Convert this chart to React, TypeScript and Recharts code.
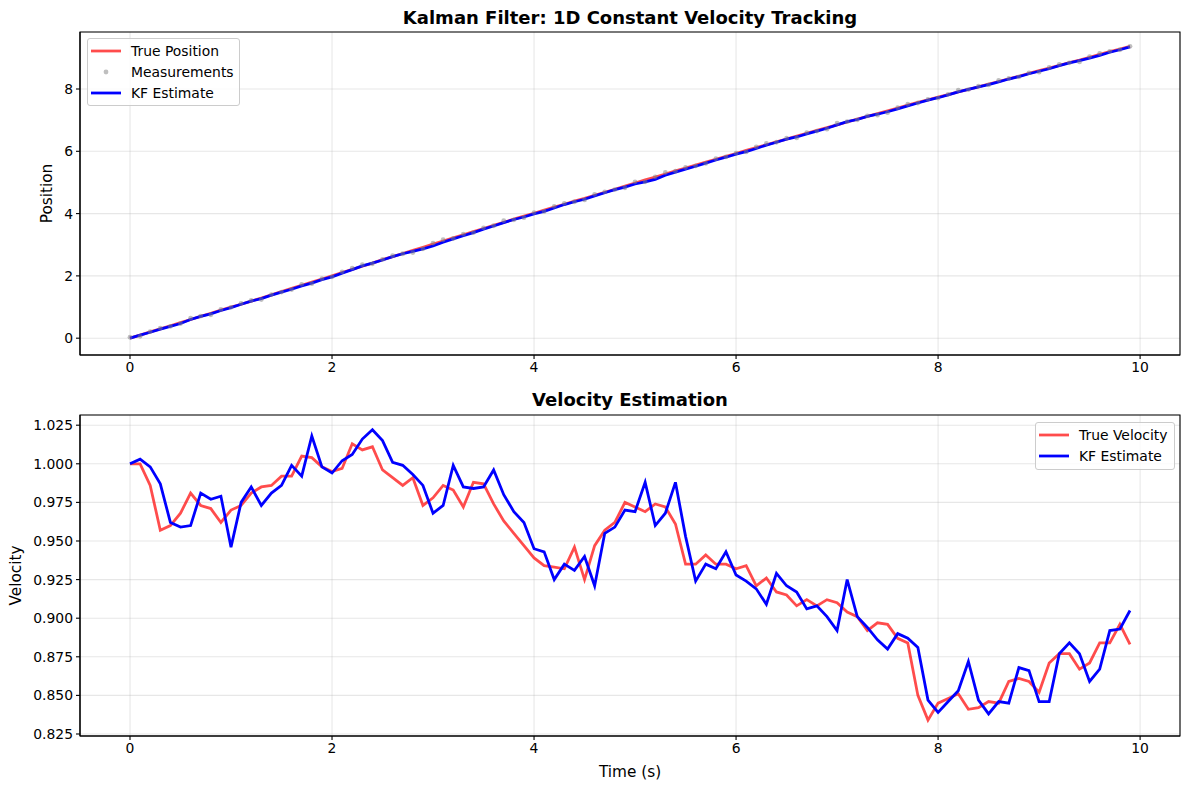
import React from 'react'
import {
  ComposedChart,
  LineChart,
  Line,
  Scatter,
  XAxis,
  YAxis,
  CartesianGrid,
  ReferenceArea,
  Legend,
} from 'recharts'

// sample times, 0.1 s steps
const TIME = [
  0, 0.1, 0.2, 0.3, 0.4, 0.5, 0.6, 0.7, 0.8, 0.9,
  1, 1.1, 1.2, 1.3, 1.4, 1.5, 1.6, 1.7, 1.8, 1.9,
  2, 2.1, 2.2, 2.3, 2.4, 2.5, 2.6, 2.7, 2.8, 2.9,
  3, 3.1, 3.2, 3.3, 3.4, 3.5, 3.6, 3.7, 3.8, 3.9,
  4, 4.1, 4.2, 4.3, 4.4, 4.5, 4.6, 4.7, 4.8, 4.9,
  5, 5.1, 5.2, 5.3, 5.4, 5.5, 5.6, 5.7, 5.8, 5.9,
  6, 6.1, 6.2, 6.3, 6.4, 6.5, 6.6, 6.7, 6.8, 6.9,
  7, 7.1, 7.2, 7.3, 7.4, 7.5, 7.6, 7.7, 7.8, 7.9,
  8, 8.1, 8.2, 8.3, 8.4, 8.5, 8.6, 8.7, 8.8, 8.9,
  9, 9.1, 9.2, 9.3, 9.4, 9.5, 9.6, 9.7, 9.8, 9.9,
]

const TRUE_POSITION = [
  0.0, 0.1, 0.2, 0.3, 0.4, 0.5, 0.6, 0.7, 0.8, 0.9,
  1.0, 1.09, 1.19, 1.29, 1.39, 1.5, 1.6, 1.7, 1.8, 1.9,
  2.0, 2.11, 2.21, 2.31, 2.41, 2.52, 2.62, 2.72, 2.82, 2.92,
  3.02, 3.12, 3.22, 3.32, 3.42, 3.52, 3.62, 3.72, 3.82, 3.92,
  4.01, 4.11, 4.21, 4.3, 4.4, 4.49, 4.59, 4.68, 4.78, 4.88,
  4.98, 5.08, 5.17, 5.27, 5.37, 5.46, 5.56, 5.65, 5.74, 5.84,
  5.93, 6.03, 6.12, 6.21, 6.3, 6.39, 6.49, 6.58, 6.67, 6.76,
  6.85, 6.94, 7.03, 7.12, 7.21, 7.3, 7.39, 7.48, 7.57, 7.65,
  7.74, 7.82, 7.91, 7.99, 8.07, 8.16, 8.24, 8.33, 8.41, 8.5,
  8.59, 8.67, 8.76, 8.85, 8.93, 9.02, 9.11, 9.2, 9.28, 9.37,
]

const MEASUREMENTS = [
  0.03, 0.06, 0.21, 0.32, 0.38, 0.47, 0.64, 0.71, 0.75, 0.92,
  0.99, 1.12, 1.21, 1.24, 1.4, 1.48, 1.56, 1.73, 1.75, 1.91,
  1.97, 2.13, 2.25, 2.36, 2.39, 2.53, 2.65, 2.71, 2.75, 2.87,
  3.05, 3.16, 3.2, 3.34, 3.39, 3.54, 3.61, 3.77, 3.8, 3.87,
  4.03, 4.07, 4.23, 4.33, 4.38, 4.44, 4.62, 4.7, 4.77, 4.83,
  5.02, 5.02, 5.18, 5.32, 5.36, 5.48, 5.53, 5.61, 5.76, 5.82,
  5.94, 5.98, 6.14, 6.25, 6.29, 6.42, 6.43, 6.6, 6.65, 6.71,
  6.9, 6.95, 7.01, 7.14, 7.16, 7.24, 7.4, 7.51, 7.55, 7.67,
  7.71, 7.83, 7.96, 7.98, 8.09, 8.13, 8.28, 8.34, 8.39, 8.52,
  8.54, 8.69, 8.79, 8.84, 8.87, 9.04, 9.14, 9.21, 9.26, 9.37,
]

const KF_POSITION = [
  0.0, 0.1, 0.19, 0.29, 0.38, 0.47, 0.6, 0.7, 0.78, 0.89,
  0.98, 1.09, 1.19, 1.27, 1.38, 1.48, 1.57, 1.68, 1.77, 1.88,
  1.97, 2.09, 2.2, 2.32, 2.41, 2.51, 2.62, 2.71, 2.79, 2.87,
  2.96, 3.08, 3.19, 3.29, 3.39, 3.5, 3.6, 3.71, 3.81, 3.89,
  3.99, 4.07, 4.18, 4.29, 4.38, 4.46, 4.57, 4.67, 4.77, 4.85,
  4.95, 5.02, 5.1, 5.23, 5.33, 5.43, 5.52, 5.62, 5.72, 5.81,
  5.91, 5.99, 6.09, 6.2, 6.29, 6.39, 6.46, 6.56, 6.65, 6.74,
  6.85, 6.95, 7.02, 7.12, 7.19, 7.27, 7.36, 7.46, 7.55, 7.64,
  7.72, 7.81, 7.91, 7.99, 8.07, 8.14, 8.23, 8.32, 8.4, 8.49,
  8.57, 8.65, 8.75, 8.84, 8.91, 8.99, 9.08, 9.18, 9.26, 9.35,
]

const TRUE_VELOCITY = [
  1.0, 1.0, 0.986, 0.957, 0.96, 0.968, 0.981, 0.973, 0.971, 0.962,
  0.97, 0.973, 0.981, 0.985, 0.986, 0.992, 0.992, 1.005, 1.004, 0.998,
  0.995, 0.997, 1.013, 1.009, 1.011, 0.996, 0.991, 0.986, 0.991, 0.973,
  0.978, 0.986, 0.983, 0.972, 0.988, 0.987, 0.974, 0.963, 0.955, 0.947,
  0.939, 0.934, 0.933, 0.932, 0.946, 0.925, 0.947, 0.957, 0.962, 0.975,
  0.972, 0.969, 0.974, 0.972, 0.961, 0.935, 0.935, 0.941, 0.935, 0.935,
  0.932, 0.934, 0.921, 0.926, 0.917, 0.915, 0.908, 0.912, 0.908, 0.912,
  0.91, 0.904, 0.901, 0.892, 0.897, 0.896, 0.887, 0.884, 0.85, 0.834,
  0.845, 0.848, 0.851, 0.841, 0.842, 0.846, 0.845, 0.859, 0.861, 0.859,
  0.852, 0.871, 0.877, 0.877, 0.867, 0.871, 0.884, 0.884, 0.896, 0.883,
]

const KF_VELOCITY = [
  1.0, 1.003, 0.998, 0.987, 0.962, 0.959, 0.96, 0.981, 0.977, 0.979,
  0.946, 0.975, 0.985, 0.973, 0.981, 0.986, 0.999, 0.992, 1.018, 0.998,
  0.994, 1.002, 1.006, 1.016, 1.022, 1.015, 1.001, 0.999, 0.993, 0.986,
  0.968, 0.973, 0.999, 0.985, 0.984, 0.985, 0.996, 0.98, 0.969, 0.962,
  0.945, 0.943, 0.925, 0.935, 0.931, 0.94, 0.921, 0.955, 0.959, 0.97,
  0.969, 0.988, 0.96, 0.968, 0.988, 0.953, 0.924, 0.935, 0.932, 0.943,
  0.928, 0.924, 0.919, 0.909, 0.929, 0.921, 0.917, 0.906, 0.908, 0.901,
  0.892, 0.925, 0.901, 0.894, 0.886, 0.88, 0.89, 0.887, 0.881, 0.847,
  0.839, 0.846, 0.853, 0.872, 0.847, 0.838, 0.846, 0.845, 0.868, 0.866,
  0.846, 0.846, 0.877, 0.884, 0.877, 0.859, 0.867, 0.892, 0.893, 0.905,
]

const TIME_TICKS = [0, 2, 4, 6, 8, 10]
const POSITION_TICKS = [0, 2, 4, 6, 8]
const VELOCITY_TICKS = [0.825, 0.85, 0.875, 0.9, 0.925, 0.95, 0.975, 1.0, 1.025]

const positionRows = TIME.map((t, i) => ({
  t,
  truePos: TRUE_POSITION[i],
  meas: MEASUREMENTS[i],
  kfPos: KF_POSITION[i],
}))

const velocityRows = TIME.map((t, i) => ({
  t,
  trueVel: TRUE_VELOCITY[i],
  kfVel: KF_VELOCITY[i],
}))

const FONT = '"DejaVu Sans", sans-serif'
const TIME_DOMAIN: [number, number] = [-0.495, 10.395]
const POS_DOMAIN: [number, number] = [-0.54, 9.83]
const VEL_DOMAIN: [number, number] = [0.8237, 1.0316]
const LW = 2.78
const tickStyle = { fontSize: 13.9, fill: '#000', fontFamily: FONT }

type LegendItem = { label: string; kind: 'line' | 'dot'; color: string; opacity?: number }

function BoxLegend({ items }: { items: LegendItem[] }) {
  return (
    <div
      style={{
        boxSizing: 'border-box',
        border: '1px solid #cccccc',
        borderRadius: 3,
        background: 'rgba(255,255,255,0.8)',
        padding: '2px 6px 2px 3px',
        fontFamily: FONT,
        fontSize: 13.9,
        color: '#000',
      }}
    >
      {items.map((it) => (
        <div key={it.label} style={{ display: 'flex', alignItems: 'center', height: 20.8 }}>
          <svg width={30} height={10} style={{ marginRight: 10, flex: 'none' }}>
            {it.kind === 'line' ? (
              <line x1={0} x2={30} y1={5} y2={5} stroke={it.color} strokeOpacity={it.opacity ?? 1} strokeWidth={LW} />
            ) : (
              <circle cx={15} cy={5} r={2.4} fill={it.color} fillOpacity={it.opacity ?? 1} />
            )}
          </svg>
          <span style={{ whiteSpace: 'nowrap' }}>{it.label}</span>
        </div>
      ))}
    </div>
  )
}

function YTitle(props: any) {
  const { viewBox, value, x } = props
  const cy = viewBox ? viewBox.y + viewBox.height / 2 : 194
  return (
    <text
      x={x}
      y={cy}
      transform={`rotate(-90 ${x} ${cy})`}
      textAnchor="middle"
      dominantBaseline="central"
      fontSize={15.3}
      fontFamily={FONT}
      fill="#000"
    >
      {value}
    </text>
  )
}

function XTitle(props: any) {
  const { viewBox, value, y } = props
  const cx = viewBox ? viewBox.x + viewBox.width / 2 : 630
  return (
    <text x={cx} y={y} textAnchor="middle" dominantBaseline="central" fontSize={15.3} fontFamily={FONT} fill="#000">
      {value}
    </text>
  )
}

const dotShape = (p: any) => <circle cx={p.cx} cy={p.cy} r={2.4} fill="#808080" fillOpacity={0.5} />

const titleStyle: React.CSSProperties = {
  position: 'absolute',
  left: 80,
  width: 1100,
  textAlign: 'center',
  fontFamily: FONT,
  fontWeight: 'bold',
  fontSize: 18,
  lineHeight: '20px',
}

export default function App() {
  return (
    <div style={{ position: 'absolute', left: 0, top: 0, width: 1189, height: 790, background: '#fff' }}>
      <div style={{ ...titleStyle, top: 8 }}>Kalman Filter: 1D Constant Velocity Tracking</div>
      <div style={{ ...titleStyle, top: 390 }}>Velocity Estimation</div>

      <div style={{ position: 'absolute', left: 0, top: 0 }}>
        <ComposedChart width={1189} height={395} data={positionRows} margin={{ top: 32, right: 9, bottom: 10, left: 0 }}>
          <CartesianGrid stroke="#b0b0b0" strokeOpacity={0.3} strokeWidth={1.1} />
          <XAxis
            dataKey="t"
            type="number"
            domain={TIME_DOMAIN}
            ticks={TIME_TICKS}
            interval={0}
            height={30}
            tick={tickStyle}
            tickSize={4}
            tickMargin={3}
            stroke="#000"
            strokeWidth={1.1}
          />
          <YAxis
            type="number"
            domain={POS_DOMAIN}
            ticks={POSITION_TICKS}
            interval={0}
            width={80}
            tick={tickStyle}
            tickSize={4}
            tickMargin={3}
            stroke="#000"
            strokeWidth={1.1}
            label={{ value: 'Position', content: (p: any) => <YTitle {...p} value="Position" x={47} /> }}
          />
          <ReferenceArea
            x1={TIME_DOMAIN[0]}
            x2={TIME_DOMAIN[1]}
            y1={POS_DOMAIN[0]}
            y2={POS_DOMAIN[1]}
            fill="none"
            stroke="#000"
            strokeWidth={1.1}
            ifOverflow="visible"
          />
          <Line dataKey="truePos" type="linear" stroke="red" strokeOpacity={0.7} strokeWidth={LW} dot={false} isAnimationActive={false} />
          <Scatter dataKey="meas" shape={dotShape} isAnimationActive={false} />
          <Line dataKey="kfPos" type="linear" stroke="blue" strokeWidth={LW} dot={false} isAnimationActive={false} />
          <Legend
            layout="vertical"
            align="center"
            verticalAlign="middle"
            wrapperStyle={{ left: 87, top: 38, width: 153 }}
            content={() => (
              <BoxLegend
                items={[
                  { label: 'True Position', kind: 'line', color: 'red', opacity: 0.7 },
                  { label: 'Measurements', kind: 'dot', color: '#808080', opacity: 0.5 },
                  { label: 'KF Estimate', kind: 'line', color: 'blue' },
                ]}
              />
            )}
          />
        </ComposedChart>
      </div>

      <div style={{ position: 'absolute', left: 0, top: 380 }}>
        <LineChart width={1189} height={400} data={velocityRows} margin={{ top: 35, right: 9, bottom: 14, left: 0 }}>
          <CartesianGrid stroke="#b0b0b0" strokeOpacity={0.3} strokeWidth={1.1} />
          <XAxis
            dataKey="t"
            type="number"
            domain={TIME_DOMAIN}
            ticks={TIME_TICKS}
            interval={0}
            height={30}
            tick={tickStyle}
            tickSize={4}
            tickMargin={3}
            stroke="#000"
            strokeWidth={1.1}
            label={{ value: 'Time (s)', content: (p: any) => <XTitle {...p} value="Time (s)" y={392} /> }}
          />
          <YAxis
            type="number"
            domain={VEL_DOMAIN}
            ticks={VELOCITY_TICKS}
            interval={0}
            width={80}
            tick={tickStyle}
            tickSize={4}
            tickMargin={3}
            tickFormatter={(v: number) => v.toFixed(3)}
            stroke="#000"
            strokeWidth={1.1}
            label={{ value: 'Velocity', content: (p: any) => <YTitle {...p} value="Velocity" x={16} /> }}
          />
          <ReferenceArea
            x1={TIME_DOMAIN[0]}
            x2={TIME_DOMAIN[1]}
            y1={VEL_DOMAIN[0]}
            y2={VEL_DOMAIN[1]}
            fill="none"
            stroke="#000"
            strokeWidth={1.1}
            ifOverflow="visible"
          />
          <Line dataKey="trueVel" type="linear" stroke="red" strokeOpacity={0.7} strokeWidth={LW} dot={false} isAnimationActive={false} />
          <Line dataKey="kfVel" type="linear" stroke="blue" strokeWidth={LW} dot={false} isAnimationActive={false} />
          <Legend
            layout="vertical"
            align="center"
            verticalAlign="middle"
            wrapperStyle={{ left: 1035, top: 42, width: 140 }}
            content={() => (
              <BoxLegend
                items={[
                  { label: 'True Velocity', kind: 'line', color: 'red', opacity: 0.7 },
                  { label: 'KF Estimate', kind: 'line', color: 'blue' },
                ]}
              />
            )}
          />
        </LineChart>
      </div>
    </div>
  )
}
